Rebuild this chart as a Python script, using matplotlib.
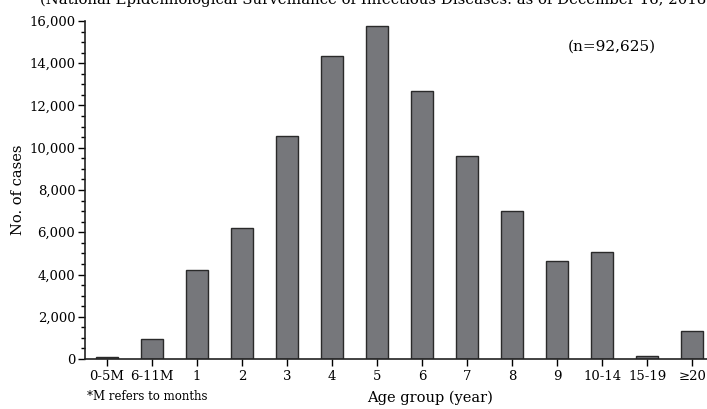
import matplotlib
matplotlib.use("Agg")
import matplotlib.pyplot as plt
from matplotlib.ticker import MultipleLocator, FuncFormatter

categories = ["0-5M", "6-11M", "1", "2", "3", "4", "5", "6", "7", "8", "9", "10-14", "15-19", "≥20"]
cases = [100, 960, 4200, 6200, 10550, 14350, 15750, 12700, 9600, 7000, 4620, 5050, 150, 1320]

plt.rcParams['font.family'] = ['DejaVu Serif']
fig = plt.figure(figsize=(7.07, 4.09), dpi=100)
ax = fig.add_axes([85/707, 1-359/409, 1-85/707, (359-21)/409])

x = list(range(len(categories)))
ax.bar(x, cases, width=0.5, color="#76777b", edgecolor="#2a2a2a", linewidth=1.0)

ax.set_xlim(-0.49, 13.33)
ax.set_ylim(0, 16000)
ax.set_xticks(x)
ax.set_xticklabels(categories, fontsize=9.5)
ax.yaxis.set_major_locator(MultipleLocator(2000))
ax.yaxis.set_minor_locator(MultipleLocator(500))
ax.yaxis.set_major_formatter(FuncFormatter(lambda v, p: f"{int(v):,}"))
ax.tick_params(axis='y', which='major', length=5, width=1, labelsize=9.5, pad=2)
ax.tick_params(axis='y', which='minor', length=3, width=1)
ax.tick_params(axis='x', which='major', length=5, width=1, pad=3)
for s in ['top', 'right']:
    ax.spines[s].set_visible(False)
for s in ['left', 'bottom']:
    ax.spines[s].set_linewidth(1.2)
    ax.spines[s].set_color("#222222")

fig.text(18/707, 1-190/409, "No. of cases", fontsize=10.5, rotation=90, ha='center', va='center')
fig.text(430/707, 1-398/409, "Age group (year)", fontsize=10.5, ha='center', va='center')
fig.text(87/707, 1-397/409, "*M refers to months", fontsize=8.5, ha='left', va='center')
fig.text(612/707, 1-47/409, "(n=92,625)", fontsize=11, ha='center', va='center')
fig.text(376/707, 1-0/409, "(National Epidemiological Surveillance of Infectious Diseases: as of December 16, 2018)",
         fontsize=10.7, ha='center', va='center')

fig.savefig("out.png", dpi=100)
